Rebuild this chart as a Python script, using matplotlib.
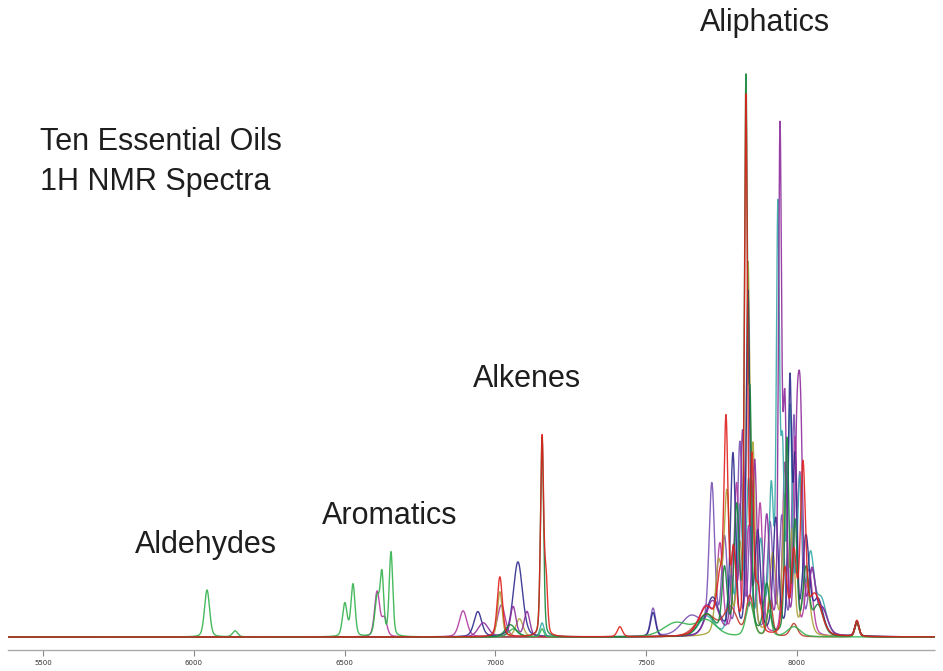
import numpy as np
import matplotlib
matplotlib.use("Agg")
import matplotlib.pyplot as plt

# ---- data: peak tables (position in spectrum units, height, width) ----
tick_values = [5500, 6000, 6500, 7000, 7500, 8000]
tick_labels = ["5500", "6000", "6500", "7000", "7500", "8000"]

region_labels = ["Aldehydes", "Aromatics", "Alkenes", "Aliphatics"]
title_lines = ["Ten Essential Oils", "1H NMR Spectra"]

oil1_pos = [6044, 6137, 6501, 6528, 6608, 6624, 6654, 7060, 7155, 7600, 7700, 7844, 7907, 7990]
oil1_hgt = [47, 6, 33, 52, 38, 60, 84, 8, 8, 14, 16, 34, 26, 10]
oil1_wid = [20, 20, 18, 16, 18, 14, 14, 40, 14, 100, 80, 30, 20, 50]

oil2_pos = [7015, 7155, 7168, 7413, 7700, 7745, 7765, 7790, 7831, 7851, 7870, 7960, 7990, 8020, 8060, 8199]
oil2_hgt = [60, 198, 55, 10, 28, 50, 205, 80, 535, 160, 45, 65, 80, 165, 40, 16]
oil2_wid = [20, 12, 12, 20, 60, 24, 16, 20, 12, 12, 24, 20, 20, 20, 50, 16]

oil3_pos = [7050, 7155, 7700, 7760, 7800, 7831, 7845, 7900, 7967, 7994, 8030, 8070, 8199]
oil3_hgt = [12, 200, 22, 65, 125, 545, 210, 50, 195, 110, 65, 30, 15]
oil3_wid = [40, 12, 60, 20, 20, 12, 12, 24, 16, 16, 24, 40, 16]

oil4_pos = [7155, 7700, 7780, 7811, 7840, 7880, 7915, 7937, 7952, 7977, 8010, 8045, 8080, 8199]
oil4_hgt = [14, 20, 55, 125, 150, 90, 140, 410, 170, 220, 150, 75, 35, 15]
oil4_wid = [16, 60, 22, 20, 18, 22, 18, 12, 14, 18, 20, 28, 40, 16]

oil5_pos = [6960, 7059, 7105, 7720, 7790, 7820, 7860, 7900, 7944, 7960, 8000, 8012, 8050, 8085, 8199]
oil5_hgt = [14, 30, 25, 35, 85, 200, 170, 115, 495, 220, 170, 190, 60, 25, 15]
oil5_wid = [40, 22, 22, 50, 20, 18, 18, 22, 12, 14, 18, 18, 28, 40, 16]

oil6_pos = [6942, 7075, 7523, 7720, 7788, 7838, 7870, 7930, 7977, 7994, 8030, 8070, 8199]
oil6_hgt = [25, 75, 24, 38, 180, 340, 100, 115, 250, 165, 95, 35, 15]
oil6_wid = [30, 36, 20, 50, 20, 14, 22, 22, 14, 14, 26, 40, 16]

oil7_pos = [7015, 7080, 7740, 7768, 7810, 7838, 7855, 7920, 7960, 7985, 8030, 8199]
oil7_hgt = [45, 18, 70, 140, 85, 360, 170, 80, 135, 100, 55, 14]
oil7_wid = [18, 28, 24, 22, 22, 14, 14, 24, 18, 18, 30, 16]

oil8_pos = [7523, 7650, 7718, 7760, 7811, 7850, 7911, 7950, 7990, 8010, 8050, 8085, 8199]
oil8_hgt = [28, 20, 148, 95, 190, 150, 110, 115, 210, 150, 60, 25, 14]
oil8_wid = [20, 80, 22, 22, 20, 20, 22, 20, 16, 16, 28, 40, 16]

oil9_pos = [6608, 6632, 6893, 7020, 7700, 7745, 7800, 7840, 7878, 7960, 7994, 8040, 8199]
oil9_hgt = [45, 18, 26, 32, 30, 85, 150, 105, 130, 170, 195, 65, 14]
oil9_wid = [20, 20, 30, 30, 60, 22, 20, 20, 20, 18, 16, 28, 16]

oil10_pos = [7700, 7780, 7844, 7911, 7990, 8199]
oil10_hgt = [22, 28, 40, 35, 13, 14]
oil10_wid = [80, 50, 28, 20, 28, 16]

series = [
    ("oil8", oil8_pos, oil8_hgt, oil8_wid, "#7a52b4"),
    ("oil9", oil9_pos, oil9_hgt, oil9_wid, "#b23aa0"),
    ("oil7", oil7_pos, oil7_hgt, oil7_wid, "#aaa238"),
    ("oil4", oil4_pos, oil4_hgt, oil4_wid, "#36a9a9"),
    ("oil6", oil6_pos, oil6_hgt, oil6_wid, "#2c2a8c"),
    ("oil5", oil5_pos, oil5_hgt, oil5_wid, "#8c2c9c"),
    ("oil10", oil10_pos, oil10_hgt, oil10_wid, "#c0392b"),
    ("oil1", oil1_pos, oil1_hgt, oil1_wid, "#33b24c"),
    ("oil3", oil3_pos, oil3_hgt, oil3_wid, "#15843a"),
    ("oil2", oil2_pos, oil2_hgt, oil2_wid, "#e0201c"),
]


def spectrum(x, pos, hgt, wid, eta=0.3):
    y = np.zeros_like(x)
    for p, h, w in zip(pos, hgt, wid):
        hw = w / 2.0
        lor = 1.0 / (1.0 + ((x - p) / hw) ** 2)
        gau = np.exp(-np.log(2) * ((x - p) / hw) ** 2)
        y += h * (eta * lor + (1 - eta) * gau)
    return y


W, H = 943, 671
fig = plt.figure(figsize=(W / 100, H / 100), dpi=100)
ax = fig.add_axes([8 / W, (H - 650) / H, (935 - 8) / W, 650 / H])

x0, x1 = 5384, 8458
x = np.linspace(x0, x1, 6000)
for name, pos, hgt, wid, col in series:
    ax.plot(x, spectrum(x, pos, hgt, wid), color=col, lw=1.0, alpha=0.9)

ax.set_xlim(x0, x1)
ax.set_ylim(-13, 637)
ax.set_yticks([])
for s in ["top", "left", "right"]:
    ax.spines[s].set_visible(False)
ax.spines["bottom"].set_color("#aaaaaa")
ax.spines["bottom"].set_linestyle((0, (1, 1)))
ax.spines["bottom"].set_linewidth(1.0)
ax.set_xticks(tick_values)
ax.set_xticklabels(tick_labels, fontsize=5, color="#333333", family="Liberation Sans Narrow")
ax.tick_params(axis="x", length=4, width=0.8, color="#888888", pad=3)


def ftext(px, py, s, **kw):
    fig.text(px / W, 1 - py / H, s, fontsize=22, family="Liberation Sans",
             color="#1e1e1e", va="baseline", **kw)


ftext(40, 150, title_lines[0])
ftext(40, 190, title_lines[1])
ftext(135, 553, region_labels[0])
ftext(322, 524, region_labels[1])
ftext(473, 387, region_labels[2])
ftext(700, 31, region_labels[3])

fig.savefig("out.png", dpi=100)
